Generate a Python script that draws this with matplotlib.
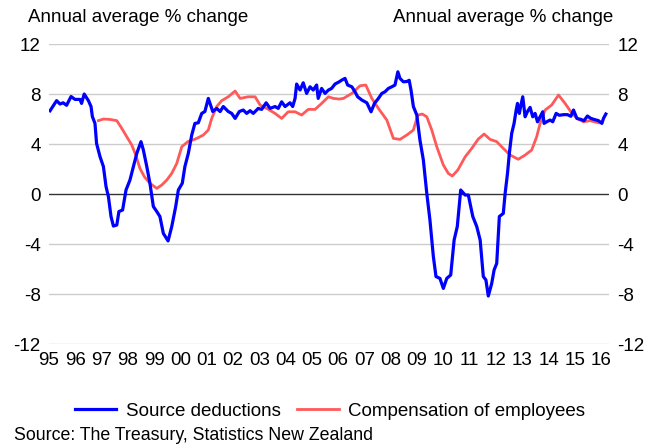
import matplotlib
matplotlib.use("Agg")
import matplotlib.pyplot as plt

plt.rcParams['font.family'] = ['Liberation Sans', 'DejaVu Sans']
plt.rcParams['axes.unicode_minus'] = False

# Source deductions, annual average % change
sd_year = [1995.04, 1995.29, 1995.42, 1995.54, 1995.67, 1995.84, 1995.99, 1996.18, 1996.24, 1996.34,
           1996.50, 1996.60, 1996.65, 1996.75, 1996.81, 1996.94, 1997.07, 1997.17, 1997.26, 1997.36,
           1997.45, 1997.58, 1997.66, 1997.80, 1997.93, 1998.08, 1998.21, 1998.34, 1998.50, 1998.59,
           1998.72, 1998.84, 1998.97, 1999.10, 1999.22, 1999.35, 1999.53, 1999.67, 1999.82, 1999.92,
           2000.07, 2000.17, 2000.30, 2000.43, 2000.55, 2000.68, 2000.81, 2000.93, 2001.06, 2001.15,
           2001.23, 2001.38, 2001.51, 2001.63, 2001.82, 2001.95, 2002.08, 2002.24, 2002.39, 2002.52,
           2002.65, 2002.77, 2002.96, 2003.09, 2003.26, 2003.41, 2003.60, 2003.72, 2003.85, 2003.98,
           2004.17, 2004.27, 2004.36, 2004.42, 2004.55, 2004.67, 2004.80, 2004.93, 2005.05, 2005.18,
           2005.24, 2005.37, 2005.50, 2005.63, 2005.75, 2005.88, 2006.04, 2006.14, 2006.26, 2006.36,
           2006.52, 2006.64, 2006.74, 2006.90, 2007.09, 2007.25, 2007.38, 2007.53, 2007.66, 2007.78,
           2007.91, 2008.04, 2008.16, 2008.27, 2008.35, 2008.48, 2008.61, 2008.70, 2008.77, 2008.86,
           2008.99, 2009.11, 2009.24, 2009.37, 2009.49, 2009.56, 2009.62, 2009.72, 2009.87, 2010.00,
           2010.13, 2010.28, 2010.41, 2010.53, 2010.66, 2010.83, 2010.95, 2011.12, 2011.27, 2011.40,
           2011.52, 2011.62, 2011.71, 2011.84, 2011.93, 2012.03, 2012.13, 2012.28, 2012.35, 2012.44,
           2012.51, 2012.60, 2012.69, 2012.77, 2012.82, 2012.89, 2012.94, 2013.02, 2013.11, 2013.20,
           2013.30, 2013.40, 2013.49, 2013.58, 2013.68, 2013.78, 2013.83, 2013.93, 2014.06, 2014.16,
           2014.29, 2014.41, 2014.57, 2014.72, 2014.85, 2014.95, 2015.08, 2015.23, 2015.35, 2015.48,
           2015.61, 2015.73, 2015.90, 2016.03, 2016.09, 2016.18]
sd_val = [6.66, 7.47, 7.20, 7.30, 7.10, 7.80, 7.57, 7.57, 7.25, 8.00,
          7.47, 7.00, 6.20, 5.65, 4.05, 3.00, 2.20, 0.60, -0.20, -1.80,
          -2.56, -2.48, -1.40, -1.28, 0.32, 1.12, 2.20, 3.25, 4.19, 3.52,
          2.20, 0.86, -1.00, -1.40, -1.80, -3.15, -3.75, -2.60, -1.00, 0.32,
          0.86, 2.20, 3.25, 4.72, 5.65, 5.70, 6.45, 6.60, 7.65, 7.10,
          6.60, 6.85, 6.60, 7.00, 6.60, 6.45, 6.05, 6.60, 6.72, 6.45,
          6.67, 6.45, 6.85, 6.77, 7.30, 6.85, 7.00, 6.85, 7.38, 7.00,
          7.30, 7.00, 7.65, 8.80, 8.32, 8.90, 8.05, 8.58, 8.32, 8.72,
          7.65, 8.45, 8.05, 8.32, 8.45, 8.80, 8.98, 9.12, 9.25, 8.72,
          8.58, 8.18, 7.78, 7.52, 7.30, 6.58, 7.25, 7.65, 8.05, 8.18,
          8.45, 8.58, 8.72, 9.78, 9.25, 8.98, 9.00, 9.10, 8.32, 7.00,
          6.32, 4.32, 2.72, 0.05, -2.08, -3.68, -5.00, -6.60, -6.75, -7.55,
          -6.75, -6.48, -3.68, -2.60, 0.32, -0.08, -0.08, -1.80, -2.60, -3.68,
          -6.60, -6.88, -8.16, -7.15, -6.08, -5.55, -1.80, -1.55, 0.05, 1.65,
          3.25, 4.85, 5.65, 6.72, 7.25, 6.45, 7.00, 7.78, 6.18, 6.60,
          6.93, 6.18, 6.45, 5.78, 6.18, 6.58, 5.65, 5.78, 5.92, 5.78,
          6.45, 6.30, 6.35, 6.35, 6.22, 6.72, 6.05, 5.97, 5.87, 6.24,
          6.05, 5.97, 5.87, 5.65, 6.05, 6.40]

# Compensation of employees, annual average % change
ce_year = [1996.88, 1997.07, 1997.32, 1997.58, 1997.77, 1997.96, 1998.15, 1998.30, 1998.46, 1998.63,
           1998.84, 1999.10, 1999.29, 1999.48, 1999.67, 1999.86, 2000.05, 2000.28, 2000.53, 2000.62,
           2000.87, 2001.06, 2001.19, 2001.38, 2001.57, 2001.82, 2002.08, 2002.27, 2002.58, 2002.84,
           2003.03, 2003.28, 2003.60, 2003.85, 2004.10, 2004.36, 2004.61, 2004.86, 2005.12, 2005.37,
           2005.63, 2005.82, 2006.04, 2006.20, 2006.52, 2006.83, 2007.05, 2007.28, 2007.53, 2007.85,
           2008.10, 2008.35, 2008.61, 2008.86, 2009.03, 2009.20, 2009.37, 2009.56, 2009.75, 2010.00,
           2010.19, 2010.34, 2010.55, 2010.83, 2011.08, 2011.33, 2011.55, 2011.78, 2012.03, 2012.28,
           2012.54, 2012.85, 2013.11, 2013.36, 2013.55, 2013.68, 2013.87, 2014.12, 2014.38, 2014.63,
           2014.85, 2015.08, 2015.33, 2015.58, 2015.90]
ce_val = [5.87, 6.00, 5.97, 5.87, 5.25, 4.58, 3.92, 3.12, 2.05, 1.38,
          0.86, 0.45, 0.72, 1.12, 1.65, 2.45, 3.78, 4.19, 4.37, 4.45,
          4.72, 5.12, 6.05, 7.00, 7.47, 7.78, 8.24, 7.65, 7.78, 7.78,
          7.12, 6.85, 6.45, 6.05, 6.58, 6.58, 6.32, 6.77, 6.77, 7.25,
          7.78, 7.65, 7.60, 7.65, 8.05, 8.66, 8.72, 7.65, 6.85, 5.92,
          4.45, 4.37, 4.72, 5.12, 6.32, 6.40, 6.18, 5.12, 3.78, 2.32,
          1.65, 1.44, 1.92, 2.98, 3.65, 4.40, 4.80, 4.37, 4.19, 3.65,
          3.12, 2.78, 3.12, 3.52, 4.58, 5.65, 6.72, 7.12, 7.92, 7.25,
          6.58, 6.05, 5.78, 5.87, 5.70]

year_ticks = list(range(1995, 2017))
year_labels = ['%02d' % (y % 100) for y in year_ticks]
y_ticks = [-12, -8, -4, 0, 4, 8, 12]

fig = plt.figure(figsize=(6.6, 4.48), dpi=100)
ax = fig.add_axes([0.0742, 0.2321, 0.8485, 0.6696])

for y in y_ticks:
    if y == 0:
        ax.axhline(y, color='#333333', lw=1.0, zorder=1)
    else:
        ax.axhline(y, color='#cccccc', lw=1.0, zorder=1)

ax.plot(ce_year, ce_val, color='#ff5a5a', lw=2.0, zorder=2, label='Compensation of employees')
ax.plot(sd_year, sd_val, color='#0000ff', lw=2.3, zorder=3, label='Source deductions')

ax.set_xlim(1995, 2016.3)
ax.set_ylim(-12, 12)
ax.set_xticks(year_ticks)
ax.set_xticklabels(year_labels)
ax.set_yticks(y_ticks)
ax.tick_params(axis='both', length=0, labelsize=13.5)
ax.tick_params(axis='y', labelleft=True, labelright=True, pad=6)
ax.tick_params(axis='x', pad=6)
for s in ax.spines.values():
    s.set_visible(False)

fig.text(28 / 660, 1 - 17 / 448, 'Annual average % change', fontsize=13.5, ha='left', va='center')
fig.text(613 / 660, 1 - 17 / 448, 'Annual average % change', fontsize=13.5, ha='right', va='center')

h, l = ax.get_legend_handles_labels()
fig.legend(h[::-1], l[::-1], loc='center', bbox_to_anchor=(0.5, 1 - 411 / 448), ncol=2,
           frameon=False, fontsize=13.5, handlelength=2.2, handletextpad=0.5, columnspacing=0.9)

fig.text(14 / 660, 1 - 435 / 448, 'Source: The Treasury, Statistics New Zealand', fontsize=12.8,
         ha='left', va='center')

fig.savefig('out.png', dpi=100)
